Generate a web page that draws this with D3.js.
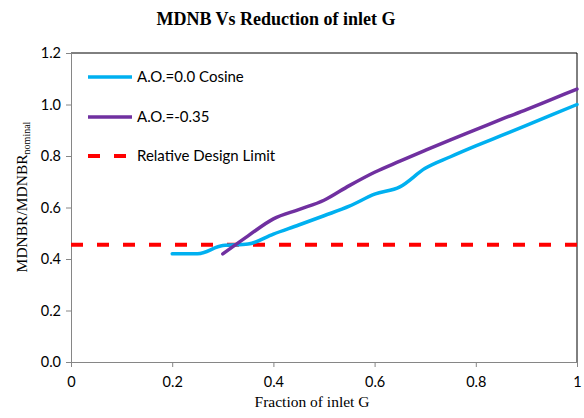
<!DOCTYPE html>
<html>
<head>
<meta charset="utf-8">
<script src="https://cdn.jsdelivr.net/npm/d3@7"></script>
<style>
  html, body { margin: 0; padding: 0; background: #fff; }
  svg { display: block; }
</style>
</head>
<body>
<svg id="chart" width="584" height="418"></svg>
<script>
// Fraction of inlet flow G (x) and normalised MDNBR (y) for each axial offset case
const cosineX = [0.2, 0.25, 0.3, 0.35, 0.4, 0.45, 0.5, 0.55, 0.6, 0.65, 0.7, 0.75, 0.8, 0.85, 0.9, 0.95, 1.0];
const cosineY = [0.42, 0.42, 0.452, 0.458, 0.497, 0.532, 0.568, 0.605, 0.652, 0.68, 0.752, 0.797, 0.839, 0.879, 0.919, 0.96, 1.0];
const offsetX = [0.3, 0.35, 0.4, 0.45, 0.5, 0.55, 0.6, 0.65, 0.7, 0.75, 0.8, 0.85, 0.9, 0.95, 1.0];
const offsetY = [0.42, 0.49, 0.556, 0.592, 0.628, 0.685, 0.737, 0.78, 0.822, 0.863, 0.902, 0.942, 0.98, 1.02, 1.06];
const designLimit = 0.455;

const seriesNames = ["A.O.=0.0 Cosine", "A.O.=-0.35", "Relative Design Limit"];
const xTicks = [0, 0.2, 0.4, 0.6, 0.8, 1];
const xTickLabels = ["0", "0.2", "0.4", "0.6", "0.8", "1"];
const yTicks = [0, 0.2, 0.4, 0.6, 0.8, 1.0, 1.2];

const svg = d3.select("#chart");
const m = { left: 71, right: 577, top: 53, bottom: 362 };

const x = d3.scaleLinear().domain([0, 1]).range([m.left, m.right]);
const y = d3.scaleLinear().domain([0, 1.2]).range([m.bottom, m.top]);

const serif = "'Liberation Serif', 'Times New Roman', serif";
const sans = "Lato, 'Open Sans', sans-serif";

// Title
svg.append("text")
  .attr("x", 276).attr("y", 25)
  .attr("text-anchor", "middle")
  .attr("font-family", serif)
  .attr("font-weight", "bold")
  .attr("font-size", 18)
  .text("MDNB Vs Reduction of inlet G");

// Plot frame (top and right edges)
svg.append("path")
  .attr("d", `M${m.left},${m.top}H${m.right}V${m.bottom}`)
  .attr("fill", "none").attr("stroke", "#000").attr("stroke-width", 1);

// Y axis
const yAxis = svg.append("g")
  .attr("transform", `translate(${m.left},0)`)
  .call(d3.axisLeft(y).tickValues(yTicks).tickFormat(d3.format(".1f")).tickSize(5).tickPadding(5));
yAxis.selectAll("path, line").attr("stroke", "#868686");
yAxis.selectAll("text").attr("font-family", sans).attr("font-size", 14.5).attr("fill", "#000");

// X axis
const xAxis = svg.append("g")
  .attr("transform", `translate(0,${m.bottom})`)
  .call(d3.axisBottom(x).tickValues(xTicks).tickFormat((d, i) => xTickLabels[i]).tickSize(5).tickPadding(10));
xAxis.selectAll("path, line").attr("stroke", "#868686");
xAxis.selectAll("text").attr("font-family", sans).attr("font-size", 14.5).attr("fill", "#000");

// Axis titles
svg.append("text")
  .attr("x", 312).attr("y", 407)
  .attr("text-anchor", "middle")
  .attr("font-family", serif)
  .attr("font-size", 15.5)
  .text("Fraction of inlet G");

const yTitle = svg.append("text")
  .attr("transform", "translate(27,197) rotate(-90)")
  .attr("text-anchor", "middle")
  .attr("font-family", serif)
  .attr("font-size", 15.5);
yTitle.append("tspan").text("MDNBR/MDNBR");
yTitle.append("tspan").attr("font-size", 10).attr("dy", 3).text("nominal");

// Design limit
svg.append("line")
  .attr("x1", x(0)).attr("x2", x(1))
  .attr("y1", y(designLimit)).attr("y2", y(designLimit))
  .attr("stroke", "#FF0000").attr("stroke-width", 4)
  .attr("stroke-dasharray", "12,14");

// Curves
const line = d3.line().x(d => x(d[0])).y(d => y(d[1])).curve(d3.curveMonotoneX);
const colors = ["#00B0F0", "#7030A0"];
svg.append("path")
  .datum(d3.zip(cosineX, cosineY))
  .attr("d", line).attr("fill", "none")
  .attr("stroke", colors[0]).attr("stroke-width", 3.5).attr("stroke-linecap", "round");
svg.append("path")
  .datum(d3.zip(offsetX, offsetY))
  .attr("d", line).attr("fill", "none")
  .attr("stroke", colors[1]).attr("stroke-width", 3.5).attr("stroke-linecap", "round");

// Legend
const legend = svg.append("g");
const legendRows = [77, 117, 156];
seriesNames.forEach((name, i) => {
  const ly = legendRows[i];
  if (i < 2) {
    legend.append("line")
      .attr("x1", 88).attr("x2", 132).attr("y1", ly).attr("y2", ly)
      .attr("stroke", colors[i]).attr("stroke-width", 3.5);
  } else {
    legend.append("line")
      .attr("x1", 88).attr("x2", 128).attr("y1", ly).attr("y2", ly)
      .attr("stroke", "#FF0000").attr("stroke-width", 4)
      .attr("stroke-dasharray", "12,14");
  }
  legend.append("text")
    .attr("x", 137).attr("y", ly + 5)
    .attr("font-family", sans).attr("font-size", 15)
    .text(name);
});
</script>
</body>
</html>
